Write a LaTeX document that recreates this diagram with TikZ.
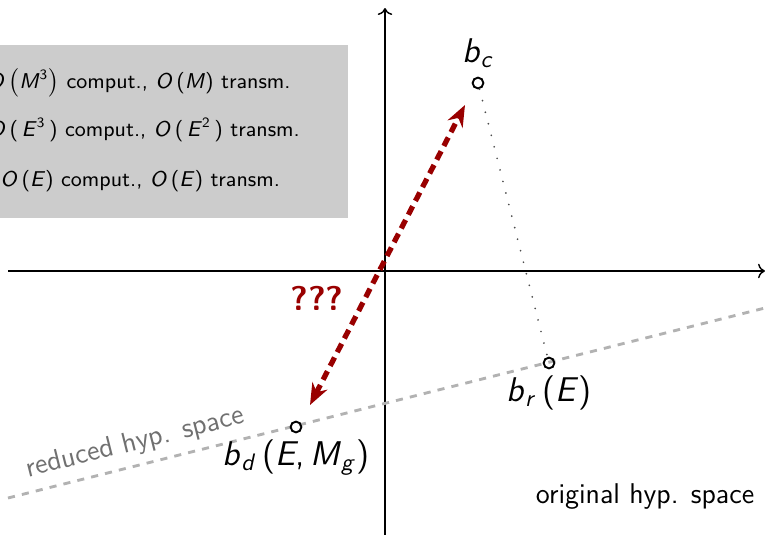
\documentclass[tikz,border=0pt]{standalone}
\usepackage{tikz}
\usetikzlibrary{arrows.meta}
\definecolor{darkred}{RGB}{153,0,0}
\definecolor{boxgray}{RGB}{204,204,204}
\definecolor{labelgray}{RGB}{112,112,112}
\newcommand{\mv}[1]{\textit{#1}}
\newcommand{\mvsub}[2]{\textit{#1}\textsubscript{\textit{#2}}}

\begin{document}
\sffamily
\begin{tikzpicture}[
        x=0.42pt, y=-0.42pt,
        axis/.style={->, semithick},
        hypline/.style={gray!60, very thick, dashed},
        pt/.style={circle, draw, thick, inner sep=1.6pt},
        mark label/.style={font=\sffamily\Large},
        question/.style={<->, darkred, line width=2.2pt, dash pattern=on 4pt off 2.5pt, >={Stealth[length=9pt, width=7pt]}},
        cost/.style={anchor=west, font=\sffamily\small}
    ]
    \useasboundingbox (0,0) rectangle (765,535);

    % Cost box
    \node[fill=boxgray, minimum width=368*0.42pt, minimum height=173*0.42pt, anchor=north west] (costbox) at (-20,45) {};
    \node[cost] (cfull) at (-21,83) {\mv{O}\,$\bigl($\mv{M}\textsuperscript{3}$\bigr)$ comput., \mv{O}\,(\mv{M}) transm.};
    \node[cost] (cred) at (-20,130) {\mv{O}\,(\,\mv{E}\textsuperscript{3}\,) comput., \mv{O}\,(\,\mv{E}\textsuperscript{2}\,) transm.};
    \node[cost] (cdec) at (-8,181) {\mv{O}\,(\mv{E}) comput., \mv{O}\,(\mv{E}) transm.};

    % Axes
    \coordinate (xl) at (8,271);
    \coordinate (xr) at (765,271);
    \coordinate (yb) at (385,535);
    \coordinate (yt) at (385,8);
    \draw[axis] (xl) -- (xr);
    \draw[axis] (yb) -- (yt);

    % Reduced hypothesis space
    \coordinate (hl) at (8,498);
    \coordinate (hr) at (765,308);
    \draw[hypline] (hl) -- node[pos=0.175, sloped, above, text=labelgray, font=\sffamily\large] (redlab) {reduced hyp. space} (hr);

    % Points
    \node[pt] (bc) at (478,83) {};
    \node[pt] (br) at (549,363) {};
    \node[pt] (bd) at (296,427) {};
    \node[mark label, above=0pt] (bclab) at (bc.north) {\mvsub{b}{c}};
    \node[mark label, below=-1pt] (brlab) at (br.south) {\mvsub{b}{r}\,(\mv{E})};
    \node[mark label, below=-1pt] (bdlab) at (bd.south) {\mvsub{b}{d}\,(\mv{E},\,\mvsub{M}{g})};
    \draw[gray!60!black, thick, line cap=round, dash pattern=on 0pt off 5pt] (bc) -- (br);

    % Unknown relation
    \coordinate (qtop) at (465,105);
    \coordinate (qbot) at (310,405);
    \draw[question] (qbot) -- (qtop);
    \node[text=darkred, font=\sffamily\Large\bfseries] (qmark) at (317,298) {???};

    \node[font=\sffamily\large] (orig) at (645,497) {original hyp. space};
\end{tikzpicture}
\end{document}
